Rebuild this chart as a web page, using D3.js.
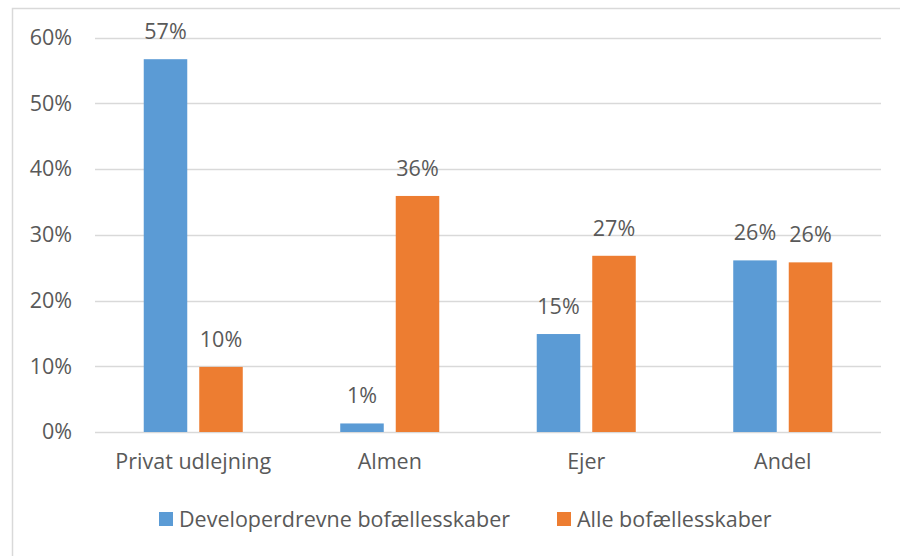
<!DOCTYPE html>
<html>
<head>
<meta charset="utf-8">
<script src="https://cdn.jsdelivr.net/npm/d3@7"></script>
<style>
  body { margin: 0; background: #fff; }
  svg { display: block; }
  text { font-family: "Open Sans", "Liberation Sans", sans-serif; fill: #595959; }
</style>
</head>
<body>
<svg width="900" height="556"></svg>
<script>
// data
var categories = ["Privat udlejning", "Almen", "Ejer", "Andel"];
var seriesNames = ["Developerdrevne bofællesskaber", "Alle bofællesskaber"];
var developerValues = [0.567, 0.013, 0.149, 0.261];
var alleValues = [0.099, 0.359, 0.268, 0.258];
var valueLabels = [["57%", "1%", "15%", "26%"], ["10%", "36%", "27%", "26%"]];
var yTicks = [0, 0.1, 0.2, 0.3, 0.4, 0.5, 0.6];
var colors = ["#5b9bd5", "#ed7d31"];

function drawChart(){

  var svg = d3.select("svg");
  var allValues = [developerValues, alleValues];
  var fontSize = "21.5px";

  // chart area border (only top and left are visible in the crop)
  svg.append("rect")
    .attr("x", 12.5).attr("y", 8.5)
    .attr("width", 1000).attr("height", 1000)
    .attr("fill", "none")
    .attr("stroke", "#d9d9d9")
    .attr("stroke-width", 1.5);

  var x0 = d3.scaleBand().domain(categories).range([95, 881]);
  var x1 = d3.scaleBand().domain(d3.range(seriesNames.length))
    .range([0, x0.bandwidth()])
    .paddingInner(0.216)
    .paddingOuter(0.878);
  var y = d3.scaleLinear().domain([0, 0.6]).range([432, 37.5]);

  // grid lines
  svg.append("g")
    .selectAll("line")
    .data(yTicks)
    .enter()
    .append("line")
    .attr("x1", 95).attr("x2", 881)
    .attr("y1", function(d){ return Math.round(y(d)) + 0.5; })
    .attr("y2", function(d){ return Math.round(y(d)) + 0.5; })
    .attr("stroke", "#d9d9d9")
    .attr("stroke-width", 1.3);

  // y axis labels
  var yAxis = svg.append("g")
    .attr("transform", "translate(72,0)")
    .call(d3.axisLeft(y).tickValues(yTicks).tickSize(0).tickPadding(0).tickFormat(d3.format(".0%")));
  yAxis.select(".domain").remove();
  yAxis.selectAll("text")
    .style("font-family", "'Open Sans', 'Liberation Sans', sans-serif")
    .style("font-size", fontSize)
    .attr("fill", "#595959");

  // bars
  var groups = svg.append("g")
    .selectAll("g")
    .data(categories)
    .enter()
    .append("g")
    .attr("transform", function(d){ return "translate(" + x0(d) + ",0)"; });

  groups.selectAll("rect")
    .data(function(d, i){ return allValues.map(function(vals, s){ return { s: s, v: vals[i], lbl: valueLabels[s][i] }; }); })
    .enter()
    .append("rect")
    .attr("x", function(d){ return x1(d.s); })
    .attr("width", x1.bandwidth())
    .attr("y", function(d){ return y(d.v); })
    .attr("height", function(d){ return y(0) - y(d.v); })
    .attr("fill", function(d){ return colors[d.s]; });

  groups.selectAll("text.val")
    .data(function(d, i){ return allValues.map(function(vals, s){ return { s: s, v: vals[i], lbl: valueLabels[s][i] }; }); })
    .enter()
    .append("text")
    .attr("class", "val")
    .attr("x", function(d){ return x1(d.s) + x1.bandwidth() / 2; })
    .attr("y", function(d){ return y(d.v) - 20; })
    .attr("text-anchor", "middle")
    .style("font-size", fontSize)
    .text(function(d){ return d.lbl; });

  // x axis labels
  var xAxis = svg.append("g")
    .attr("transform", "translate(0,454)")
    .call(d3.axisBottom(x0).tickSize(0).tickPadding(0));
  xAxis.select(".domain").remove();
  xAxis.selectAll("text")
    .attr("dy", "0.71em")
    .style("font-family", "'Open Sans', 'Liberation Sans', sans-serif")
    .style("font-size", fontSize)
    .attr("fill", "#595959");

  // legend
  var legendX = [159, 557];
  var legend = svg.append("g")
    .selectAll("g")
    .data(seriesNames)
    .enter()
    .append("g")
    .attr("transform", function(d, i){ return "translate(" + legendX[i] + ",512)"; });
  legend.append("rect")
    .attr("width", 14).attr("height", 14)
    .attr("fill", function(d, i){ return colors[i]; });
  legend.append("text")
    .attr("x", 20).attr("y", 7)
    .attr("dy", "0.35em")
    .style("font-size", fontSize)
    .text(function(d){ return d; });

  return;

}// end function drawChart()

drawChart();
</script>
</body>
</html>
